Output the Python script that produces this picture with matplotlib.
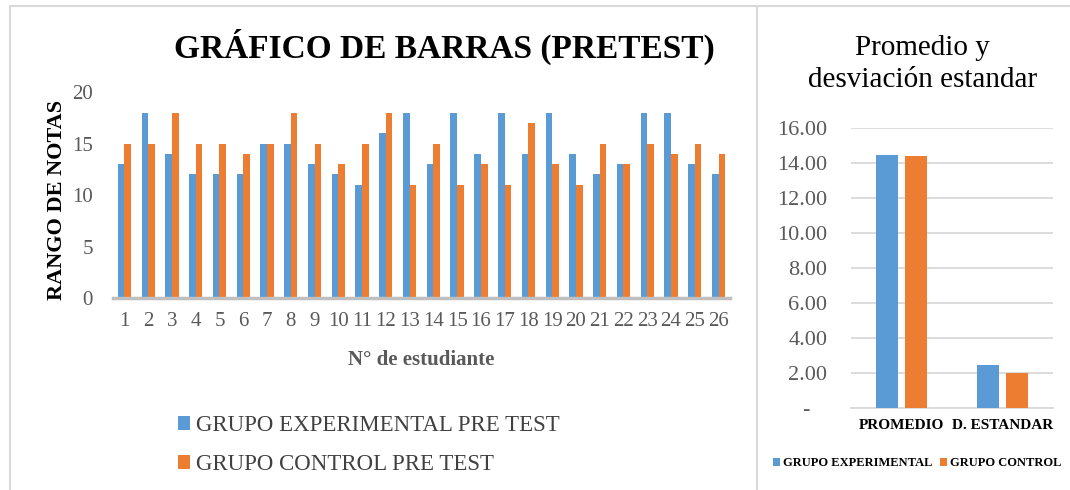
import matplotlib.pyplot as plt
import numpy as np
from matplotlib.lines import Line2D

# data
estudiantes = [str(i) for i in range(1, 27)]
experimental = [13, 18, 14, 12, 12, 12, 15, 15, 13, 12, 11, 16, 18,
                13, 18, 14, 18, 14, 18, 14, 12, 13, 18, 18, 13, 12]
control = [15, 15, 18, 15, 15, 14, 15, 18, 15, 13, 15, 18, 11,
           15, 11, 13, 11, 17, 13, 11, 15, 13, 15, 14, 15, 14]

resumen_cats = ["PROMEDIO", "D. ESTANDAR"]
resumen_exp = [14.46, 2.45]
resumen_ctrl = [14.38, 2.02]

AZUL = "#5B9BD5"
NARANJA = "#ED7D31"
GRIS = "#595959"
SERIF = "Liberation Serif"

plt.rcParams["font.family"] = SERIF

fig = plt.figure(figsize=(10.7, 4.9), dpi=100)

# ---- left chart ----
ax = fig.add_axes([0.1052, 0.3918, 0.5774, 0.4204])
x = np.arange(len(estudiantes))
w = 0.28
b1 = ax.bar(x - w / 2, experimental, w, color=AZUL, label="GRUPO EXPERIMENTAL PRE TEST")
b2 = ax.bar(x + w / 2, control, w, color=NARANJA, label="GRUPO CONTROL PRE TEST")
ax.set_xlim(-0.5, len(estudiantes) - 0.5)
ax.set_ylim(0, 20)
ax.set_yticks([0, 5, 10, 15, 20])
ax.set_xticks(x)
ax.set_xticklabels(estudiantes)
for s in ["top", "right", "left"]:
    ax.spines[s].set_visible(False)
ax.spines["bottom"].set_color("#BFBFBF")
ax.spines["bottom"].set_linewidth(2.5)
ax.tick_params(axis="both", length=0, labelsize=15, labelcolor=GRIS)
ax.tick_params(axis="y", pad=14)
ax.tick_params(axis="x", pad=10)

fig.text(0.415, 0.904, "GRÁFICO DE BARRAS (PRETEST)", ha="center", va="center",
         fontsize=24, fontweight="bold", color="black")
fig.text(0.053, 0.592, "RANGO DE NOTAS", ha="center", va="center", rotation=90,
         fontsize=16, fontweight="bold", color="black")
fig.text(0.394, 0.265, "N° de estudiante", ha="center", va="center",
         fontsize=15, fontweight="bold", color=GRIS)

fig.legend(handles=[b1, b2], loc="upper left", bbox_to_anchor=(0.166, 0.153),
           frameon=False, fontsize=16.5, handlelength=0.55, handleheight=0.55,
           handletextpad=0.25, labelspacing=0.8, labelcolor="#404040",
           borderaxespad=0, borderpad=0)

# ---- right chart ----
ax2 = fig.add_axes([0.7953, 0.1673, 0.1888, 0.5714])
xr = np.arange(len(resumen_cats))
wr = 0.22
r1 = ax2.bar(xr - 0.14, resumen_exp, wr, color=AZUL, label="GRUPO EXPERIMENTAL", zorder=3)
r2 = ax2.bar(xr + 0.14, resumen_ctrl, wr, color=NARANJA, label="GRUPO CONTROL", zorder=3)
ax2.set_xlim(-0.5, 1.5)
ax2.set_ylim(0, 16)
yt = [0, 2, 4, 6, 8, 10, 12, 14, 16]
ax2.set_yticks(yt)
ax2.set_yticklabels(["-   "] + ["%.2f" % v for v in yt[1:]])
ax2.set_xticks(xr)
ax2.set_xticklabels(resumen_cats, fontweight="bold")
ax2.grid(axis="y", color="#D9D9D9", linewidth=1.3, zorder=0)
for s in ["top", "right", "left"]:
    ax2.spines[s].set_visible(False)
ax2.spines["bottom"].set_color("#D9D9D9")
ax2.spines["bottom"].set_linewidth(1.3)
ax2.tick_params(axis="y", length=0, labelsize=16, labelcolor=GRIS, pad=17)
ax2.tick_params(axis="x", length=0, labelsize=11, labelcolor="black", pad=8)

fig.text(0.862, 0.870, "Promedio y\ndesviación estandar", ha="center", va="center",
         fontsize=21, color="black", linespacing=1.3)

leg = fig.legend(handles=[r1, r2], loc="center", bbox_to_anchor=(0.857, 0.055), ncol=2,
                 frameon=False, fontsize=9, handlelength=0.6, handleheight=0.6,
                 handletextpad=0.2, columnspacing=0.6, borderaxespad=0, borderpad=0)
for t in leg.get_texts():
    t.set_fontweight("bold")

# ---- panel borders ----
frame = "#D9D9D9"
fig.add_artist(Line2D([0.0093, 1.0], [0.988, 0.988], color=frame, lw=1.5))
fig.add_artist(Line2D([0.0093, 0.0093], [0.0, 0.988], color=frame, lw=1.5))
fig.add_artist(Line2D([0.7075, 0.7075], [0.0, 0.988], color=frame, lw=1.5))

fig.savefig("out.png", dpi=100)
